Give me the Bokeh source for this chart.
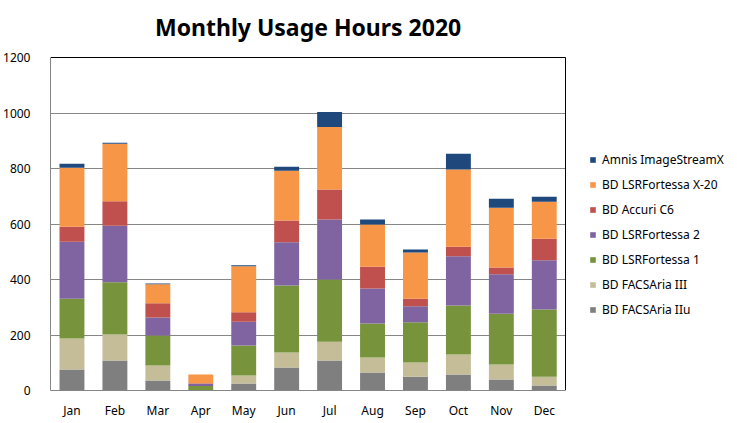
from bokeh.plotting import figure
from bokeh.models import (ColumnDataSource, Legend, LegendItem, Grid, Label,
                          FixedTicker, Range1d)
from bokeh.embed import file_html
from bokeh.resources import INLINE

months = ["Jan", "Feb", "Mar", "Apr", "May", "Jun", "Jul", "Aug", "Sep", "Oct", "Nov", "Dec"]
series = ["BD FACSAria IIu", "BD FACSAria III", "BD LSRFortessa 1", "BD LSRFortessa 2",
          "BD Accuri C6", "BD LSRFortessa X-20", "Amnis ImageStreamX"]
facsaria_iiu = [76, 108, 36, 2, 25, 83, 108, 65, 50, 58, 40, 18]
facsaria_iii = [111, 94, 54, 0, 29, 54, 68, 54, 51, 72, 54, 32]
fortessa_1 = [144, 188, 108, 14, 108, 241, 224, 122, 145, 176, 183, 242]
fortessa_2 = [205, 204, 65, 8, 86, 156, 216, 127, 58, 178, 142, 177]
accuri_c6 = [54, 88, 51, 2, 34, 79, 108, 78, 27, 34, 24, 78]
fortessa_x20 = [213, 207, 69, 32, 166, 179, 226, 152, 166, 278, 216, 133]
imagestream = [14, 4, 3, 0, 3, 14, 54, 18, 11, 57, 32, 18]
colors = ["#7F7F7F", "#C4BD97", "#77933C", "#8064A2", "#C0504D", "#F79646", "#1F497D"]
y_ticks = [0, 200, 400, 600, 800, 1000, 1200]
title_text = "Monthly Usage Hours 2020"

values = [facsaria_iiu, facsaria_iii, fortessa_1, fortessa_2, accuri_c6, fortessa_x20, imagestream]
n = len(months)
x_pos = list(range(1, n + 1))
data = {"x": x_pos}
for name, vals in zip(series, values):
    data[name] = vals
source = ColumnDataSource(data)

FONT = "Noto Sans"
cat_lo, cat_hi = 0.5, n + 0.5   # extent of the category axis
x_end = cat_lo + 16              # extra room on the right for the legend
y_max = y_ticks[-1]
frame_h = 390                    # frame height in px (frame spans from the page top)
gap_top = 57                     # px between page top and the y_max line
y_end = y_max * frame_h / (frame_h - gap_top)

p = figure(x_range=Range1d(cat_lo, x_end), y_range=Range1d(0, y_end), width=737, height=421,
           output_backend="svg", toolbar_location=None,
           min_border_left=48, min_border_right=0, min_border_top=0, min_border_bottom=31)

renderers = p.vbar_stack(series, x="x", width=0.58, color=colors, source=source,
                         line_color=None)

p.outline_line_color = None
p.xgrid.grid_line_color = None
p.ygrid.ticker = FixedTicker(ticks=y_ticks[:-1])
p.ygrid.grid_line_color = "#868686"
p.ygrid.grid_line_width = 1
p.ygrid.cross_bounds = (cat_lo, cat_hi)

# black top and right borders of the plot area
p.add_layout(Grid(dimension=1, ticker=FixedTicker(ticks=[y_max]), grid_line_color="#000000",
                  grid_line_width=1, cross_bounds=(cat_lo, cat_hi)))
p.add_layout(Grid(dimension=0, ticker=FixedTicker(ticks=[cat_hi]), grid_line_color="#000000",
                  grid_line_width=1, cross_bounds=(0, y_max)))

p.yaxis.ticker = y_ticks
p.yaxis.bounds = (0, y_max)
p.yaxis.axis_line_color = "#868686"
p.yaxis.major_tick_line_color = None
p.yaxis.minor_tick_line_color = None
p.yaxis.major_label_text_font = FONT
p.yaxis.major_label_text_font_size = "12px"
p.yaxis.major_label_text_color = "#000000"
p.yaxis.major_label_standoff = 14

p.xaxis.ticker = FixedTicker(ticks=x_pos)
p.xaxis.major_label_overrides = {x: m for x, m in zip(x_pos, months)}
p.xaxis.bounds = (cat_lo, cat_hi)
p.xaxis.axis_line_color = "#868686"
p.xaxis.major_tick_line_color = None
p.xaxis.minor_tick_line_color = None
p.xaxis.major_label_text_font = FONT
p.xaxis.major_label_text_font_size = "12px"
p.xaxis.major_label_text_color = "#000000"
p.xaxis.major_label_standoff = 5

p.add_layout(Label(x=(cat_lo + cat_hi) / 2, y=frame_h - 26, y_units="screen", text=title_text,
                   text_align="center", text_baseline="middle", text_font=FONT,
                   text_font_size="23px", text_font_style="bold", text_color="#000000"))

items = [LegendItem(label=name, renderers=[r]) for name, r in zip(series, renderers)][::-1]
legend = Legend(items=items, location=(539, 71), orientation="vertical",
                glyph_width=7, glyph_height=7, label_standoff=6, spacing=5,
                label_height=20, padding=0, margin=0,
                label_text_font=FONT, label_text_font_size="12px", label_text_color="#000000",
                border_line_color=None, background_fill_alpha=0)
p.add_layout(legend, "center")

open("out.html", "w").write(file_html(p, INLINE))
